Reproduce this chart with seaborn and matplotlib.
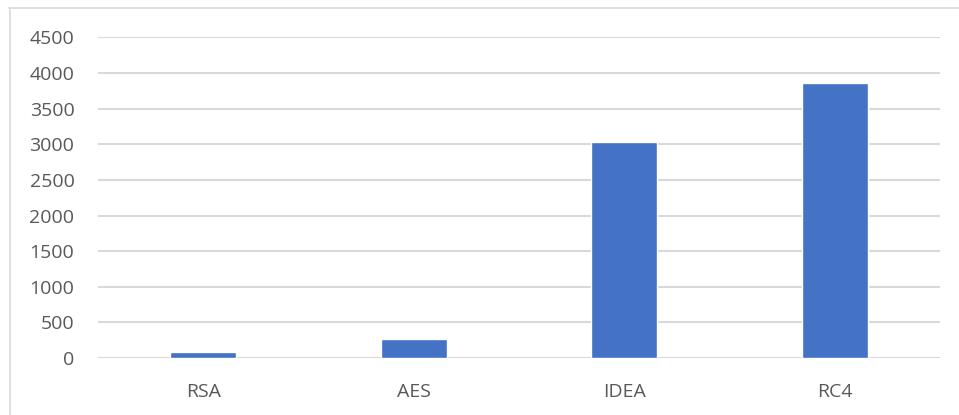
import matplotlib
matplotlib.use("Agg")
import matplotlib.pyplot as plt
import seaborn as sns
import pandas as pd
from matplotlib.lines import Line2D

categories = ["RSA", "AES", "IDEA", "RC4"]
values = [80, 265, 3029, 3861]
yticks = [0, 500, 1000, 1500, 2000, 2500, 3000, 3500, 4000, 4500]

sns.set_theme(style="white")
plt.rcParams['font.family'] = ['Open Sans', 'DejaVu Sans']

W, H = 959, 415
fig = plt.figure(figsize=(W / 100, H / 100), dpi=100)
ax = fig.add_axes([98 / W, 1 - 358 / H, (940 - 98) / W, (358 - 37.5) / H])

df = pd.DataFrame({"cat": categories, "val": values})
sns.barplot(data=df, x="cat", y="val", color="#4472C4", saturation=1,
            width=0.314, ax=ax, zorder=3)

ax.set_ylim(0, 4500)
ax.set_xlim(-0.5, 3.5)
ax.set_yticks(yticks)
ax.set_yticklabels([str(t) for t in yticks])
ax.yaxis.grid(True, color="#d9d9d9", linewidth=1.5, zorder=0)
ax.set_axisbelow(True)
for s in ax.spines.values():
    s.set_visible(False)
ax.set_xlabel("")
ax.set_ylabel("")
ax.tick_params(axis="y", length=0, pad=17, labelsize=14, labelcolor="#595959")
ax.tick_params(axis="x", length=0, pad=18, labelsize=14, labelcolor="#595959")

# outer chart border (top and left visible)
fig.add_artist(Line2D([9 / W, 1.0], [1 - 8.5 / H, 1 - 8.5 / H], color="#d9d9d9",
                      linewidth=1.2, transform=fig.transFigure))
fig.add_artist(Line2D([9.5 / W, 9.5 / W], [0, 1 - 8.5 / H], color="#d9d9d9",
                      linewidth=1.2, transform=fig.transFigure))

fig.savefig("out.png", dpi=100, facecolor="white")
